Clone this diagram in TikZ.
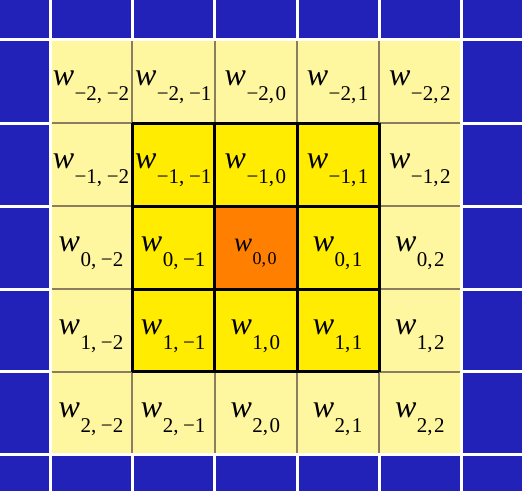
\documentclass[tikz,border=0pt]{standalone}
\usepackage{fontspec}
\setmainfont{Liberation Serif}
\definecolor{bgblue}{RGB}{34,34,184}
\definecolor{paleY}{RGB}{255,246,160}
\definecolor{brightY}{RGB}{255,236,0}
\definecolor{orng}{RGB}{255,128,0}
\definecolor{grayline}{RGB}{138,126,96}
% #1 first index, #2 second index, #3 size of w, #4 size of subscript, #5 drop
\newcommand{\wsub}[5]{{\fontsize{#3}{#3}\selectfont\textit{w}\kern0.5pt\raisebox{-#5}{\fontsize{#4}{#4}\selectfont #1,#2}}}
\newcommand{\sgn}[1]{\ifnum#1<0 −\number\numexpr-#1\relax\else#1\fi}
\newcommand{\sectxt}[1]{\ifnum#1<0 \hspace{0.22em}\else\kern1.5pt\fi\sgn{#1}}
\tikzset{
  wlabel/.style={anchor=base, inner sep=0pt, text=black},
  whiteline/.style={white, line width=3pt},
  grayrule/.style={grayline, line width=2pt},
  blackrule/.style={black, line width=3pt}
}
\begin{document}
\begin{tikzpicture}[x=1pt,y=-1pt]
\useasboundingbox (0,0) rectangle (522,491);
% background
\fill[bgblue] (0,0) rectangle (522,491);
\foreach \xx in {50,132,214.5,297,379,461}
  \draw[whiteline] (\xx,0) -- (\xx,491);
\foreach \yy in {39.5,123,206,289,371.5,454.5}
  \draw[whiteline] (0,\yy) -- (522,\yy);
% pale outer ring
\fill[paleY] (50,39.5) rectangle (461,454.5);
\foreach \xx in {132,214.5,297,379}
  \draw[grayrule] (\xx,39.5) -- (\xx,454.5);
\foreach \yy in {123,206,289,371.5}
  \draw[grayrule] (50,\yy) -- (461,\yy);
% inner 3x3
\fill[brightY] (132,123) rectangle (379,371.5);
\fill[orng] (214.5,206) rectangle (297,289);
\foreach \xx in {132,214.5,297,379}
  \draw[blackrule] (\xx,123) -- (\xx,371.5);
\foreach \yy in {123,206,289,371.5}
  \draw[blackrule] (132,\yy) -- (379,\yy);
% white border
\draw[whiteline] (50,39.5) rectangle (461,454.5);
% labels
\foreach \i in {-2,...,2}{
  \foreach \j in {-2,...,2}{
    \pgfmathsetmacro{\cx}{91+82.2*(\j+2)}
    \pgfmathsetmacro{\by}{39.5+83*(\i+2)+46}
    \pgfmathtruncatemacro{\rr}{\i+2}
    \pgfmathtruncatemacro{\cc}{\j+2}
    \ifnum\i=0 \ifnum\j=0
      \node[wlabel] (w\rr\cc) at (\cx,\by) {\wsub{0}{\kern1.5pt 0}{27}{18}{12.5pt}};
    \else
      \node[wlabel] (w\rr\cc) at (\cx,\by) {\wsub{\sgn{\i}}{\sectxt{\j}}{32}{21}{14.5pt}};
    \fi\else
      \node[wlabel] (w\rr\cc) at (\cx,\by) {\wsub{\sgn{\i}}{\sectxt{\j}}{32}{21}{14.5pt}};
    \fi
  }
}
\end{tikzpicture}
\end{document}
